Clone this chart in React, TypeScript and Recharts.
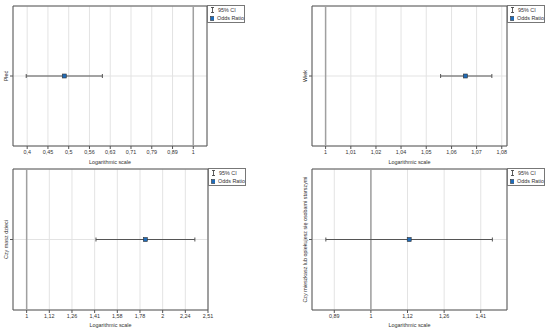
import React from 'react';
import {
  ScatterChart,
  Scatter,
  XAxis,
  YAxis,
  CartesianGrid,
  ReferenceLine,
  ReferenceArea,
  ErrorBar,
  Legend,
} from 'recharts';

// values
const categories = ['Płeć', 'Wiek', 'Czy masz dzieci', 'Czy mieszkasz lub opiekujesz się osobami starszymi'];
const oddsRatio = [0.489, 1.066, 1.827, 1.128];
const ciLower = [0.396, 1.054, 1.422, 0.868];
const ciUpper = [0.604, 1.079, 2.35, 1.465];

const xDomains = [
  [0.368, 1.079],
  [0.9938, 1.0865],
  [0.933, 2.512],
  [0.831, 1.534],
];

const tickValues = [
  [0.3981, 0.4467, 0.5012, 0.5623, 0.631, 0.7079, 0.7943, 0.8913, 1],
  [1, 1.0116, 1.0233, 1.0351, 1.0471, 1.0593, 1.0715, 1.0839],
  [1, 1.122, 1.2589, 1.4125, 1.5849, 1.7783, 1.9953, 2.2387, 2.5119],
  [0.8913, 1, 1.122, 1.2589, 1.4125],
];

const tickLabels = [
  ['0,4', '0,45', '0,5', '0,56', '0,63', '0,71', '0,79', '0,89', '1'],
  ['1', '1,01', '1,02', '1,04', '1,05', '1,06', '1,07', '1,08'],
  ['1', '1,12', '1,26', '1,41', '1,58', '1,78', '2', '2,24', '2,51'],
  ['0,89', '1', '1,12', '1,26', '1,41'],
];

const legendLabels = ['95% CI', 'Odds Ratio'];

const FONT = '"Liberation Sans", Arial, sans-serif';
const FS = 5.4;

// panel placement on the page
const panels = [
  { left: 0, top: 0, height: 165, marginTop: 6, marginRight: 68, yWidth: 13, xHeight: 19, titleOffset: 1 },
  { left: 275, top: 0, height: 165, marginTop: 6, marginRight: 43, yWidth: 37, xHeight: 19, titleOffset: 1 },
  { left: 0, top: 165, height: 166, marginTop: 4, marginRight: 67, yWidth: 13, xHeight: 21, titleOffset: 4 },
  { left: 275, top: 165, height: 166, marginTop: 4, marginRight: 43, yWidth: 37, xHeight: 21, titleOffset: 4 },
];

const LegendBox = () => (
  <div
    style={{
      width: 38,
      height: 18,
      border: '1px solid #777',
      background: '#fff',
      fontFamily: FONT,
      fontSize: FS,
      color: '#333',
      lineHeight: '8px',
      boxSizing: 'border-box',
      padding: '0 0 0 2px',
      whiteSpace: 'nowrap',
    }}
  >
    <div style={{ display: 'flex', alignItems: 'center', height: 8 }}>
      <svg width={5} height={6} style={{ marginRight: 3 }}>
        <line x1={2.5} y1={0.5} x2={2.5} y2={5.5} stroke="#333" strokeWidth={0.8} />
        <line x1={1} y1={0.5} x2={4} y2={0.5} stroke="#333" strokeWidth={0.8} />
        <line x1={1} y1={5.5} x2={4} y2={5.5} stroke="#333" strokeWidth={0.8} />
      </svg>
      {legendLabels[0]}
    </div>
    <div style={{ display: 'flex', alignItems: 'center', height: 8 }}>
      <svg width={5} height={5} style={{ marginRight: 3 }}>
        <rect x={0.5} y={0.5} width={4} height={4} fill="#1f6bb8" stroke="#333" strokeWidth={0.6} />
      </svg>
      {legendLabels[1]}
    </div>
  </div>
);

const Panel = ({ i }: { i: number }) => {
  const p = panels[i];
  const data = [{ x: oddsRatio[i], y: 1, err: [oddsRatio[i] - ciLower[i], ciUpper[i] - oddsRatio[i]] }];
  const dom = xDomains[i];
  const plotRight = 275 - p.marginRight;

  const yTick = (props: any) => {
    const { x, y } = props;
    return (
      <text
        x={x}
        y={y}
        transform={`rotate(-90 ${x} ${y})`}
        textAnchor="middle"
        fontSize={FS}
        fontFamily={FONT}
        fill="#333"
      >
        {categories[i]}
      </text>
    );
  };

  return (
    <div style={{ position: 'absolute', left: p.left, top: p.top }}>
      <ScatterChart
        width={275}
        height={p.height}
        margin={{ top: p.marginTop, right: p.marginRight, bottom: 0, left: 0 }}
      >
        <CartesianGrid stroke="#e3e3e3" />
        <XAxis
          type="number"
          dataKey="x"
          scale="log"
          domain={dom}
          allowDataOverflow
          ticks={tickValues[i]}
          interval={0}
          tickFormatter={(v: number) => tickLabels[i][tickValues[i].indexOf(v)]}
          height={p.xHeight}
          tickSize={3}
          tickMargin={1}
          axisLine={false}
          tickLine={{ stroke: '#555' }}
          tick={{ fontSize: FS, fill: '#333', fontFamily: FONT }}
          label={{
            value: 'Logarithmic scale',
            position: 'insideBottom',
            offset: p.titleOffset,
            fontSize: FS,
            fill: '#333',
            fontFamily: FONT,
          }}
        />
        <YAxis
          type="number"
          dataKey="y"
          domain={[0, 2]}
          ticks={[1]}
          width={p.yWidth}
          tickSize={3}
          tickMargin={2}
          axisLine={false}
          tickLine={{ stroke: '#555' }}
          tick={yTick}
        />
        <ReferenceLine x={1} stroke="#a0a0a0" strokeWidth={1.5} />
        <ReferenceArea x1={dom[0]} x2={dom[1]} y1={0} y2={2} fill="none" stroke="#555" strokeWidth={1} />
        <Legend
          layout="horizontal"
          align="center"
          verticalAlign="middle"
          content={() => <LegendBox />}
          wrapperStyle={{ position: 'absolute', left: plotRight, top: p.marginTop - 1, width: 38, height: 18 }}
        />
        <Scatter
          data={data}
          isAnimationActive={false}
          shape={(s: any) => (
            <rect x={s.cx - 2} y={s.cy - 2} width={4} height={4} fill="#1f6bb8" stroke="#333" strokeWidth={0.6} />
          )}
        >
          <ErrorBar dataKey="err" direction="x" width={2} stroke="#555" strokeWidth={1} isAnimationActive={false} />
        </Scatter>
      </ScatterChart>
    </div>
  );
}

export default function App() {
  return (
    <div style={{ position: 'absolute', left: 0, top: 0, width: 550, height: 331, background: '#fff' }}>
      {categories.map((_, i) => (
        <Panel key={i} i={i} />
      ))}
    </div>
  );
}
